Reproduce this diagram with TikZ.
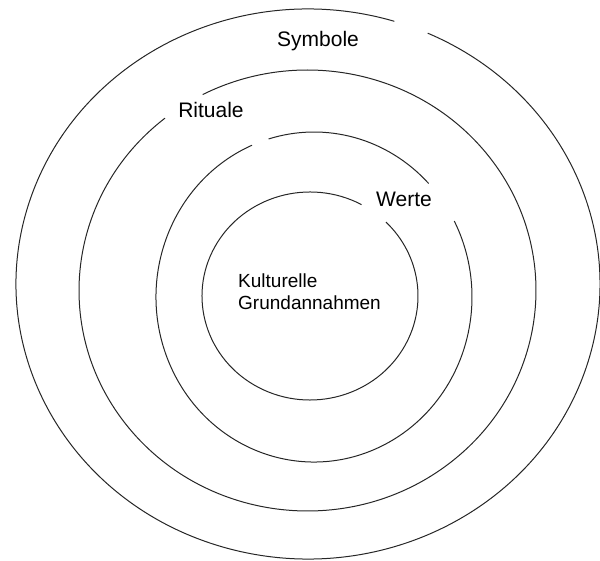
\documentclass[tikz,border=0pt]{standalone}
\usepackage{fontspec}
\setmainfont{Liberation Sans}
\usetikzlibrary{positioning}

\begin{document}
\begin{tikzpicture}[x=1pt, y=1pt,
        ring/.style={line width=1pt, black!85},
        lbl/.style={font=\fontsize{21}{23}\selectfont, inner sep=0pt, anchor=base},
        core/.style={font=\fontsize{19}{22}\selectfont, inner sep=0pt, align=left, anchor=north west}
      ]
        \useasboundingbox (0,0) rectangle (600,560);

        % rings, outside in (each with its gap)
        \draw[ring] (308,276)   ++(72.8:292 and 275)    arc[start angle=72.8,  end angle=425.8, x radius=292,   y radius=275];
        \draw[ring] (307.5,269.5) ++(128.6:228.5 and 220.5) arc[start angle=128.6, end angle=477.3, x radius=228.5, y radius=220.5];
        \draw[ring] (314,263)   ++(43.5:158 and 165)    arc[start angle=43.5,  end angle=106.7, x radius=158,   y radius=165];
        \draw[ring] (314,263)   ++(113.1:158 and 165)   arc[start angle=113.1, end angle=387.4, x radius=158,   y radius=165];
        \draw[ring] (310,264)   ++(61.5:108 and 104)    arc[start angle=61.5,  end angle=405.3, x radius=108,   y radius=104];

        \node[lbl]  (sym) at (318,513) {Symbole};
        \node[lbl]  (rit) at (211,442) {Rituale};
        \node[lbl]  (wer) at (404,353) {Werte};
        \node[core] (kul) at (238,286) {Kulturelle\\Grundannahmen};
      \end{tikzpicture}
\end{document}
